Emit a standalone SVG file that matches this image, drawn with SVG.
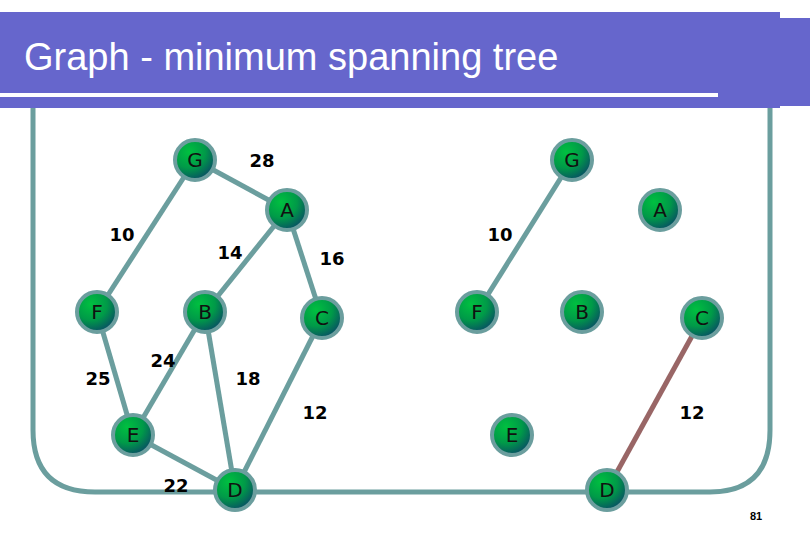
<svg xmlns="http://www.w3.org/2000/svg" width="810" height="540" viewBox="0 0 810 540">
<defs>
<radialGradient id="ng" cx="0.35" cy="0.3" r="0.8">
<stop offset="0" stop-color="#00c040"/><stop offset="0.5" stop-color="#009a48"/><stop offset="1" stop-color="#0a3f6a"/>
</radialGradient>
</defs>
<style>
.n{fill:url(#ng);stroke:#6b9e9e;stroke-width:4}
.nt{font-family:"DejaVu Sans",sans-serif;font-size:20px;fill:#111;text-anchor:middle;dominant-baseline:central}
.e{stroke:#6b9e9e;stroke-width:5;fill:none}
.w{font-family:"DejaVu Sans",sans-serif;font-weight:bold;font-size:18px;fill:#000;text-anchor:middle;dominant-baseline:central}
</style>
<rect width="810" height="540" fill="#fff"/>
<rect x="0" y="12" width="780" height="96" fill="#6666cc"/>
<rect x="780" y="18" width="30" height="88" fill="#6666cc"/>
<rect x="0" y="93" width="718" height="4" fill="#fff"/>
<text x="24" y="70" font-family="Liberation Sans,Arial,sans-serif" font-size="38" fill="#fff">Graph - minimum spanning tree</text>
<path class="e" d="M33 108 V430 Q33 492 95 492 H710 Q770 492 770 430 V108"/>
<g id="connectors">
<line class="e" x1="195" y1="160" x2="97" y2="312"/>
<line class="e" x1="195" y1="160" x2="287" y2="210"/>
<line class="e" x1="287" y1="210" x2="205" y2="312"/>
<line class="e" x1="287" y1="210" x2="322" y2="318"/>
<line class="e" x1="97" y1="312" x2="133" y2="435"/>
<line class="e" x1="205" y1="312" x2="133" y2="435"/>
<line class="e" x1="205" y1="312" x2="235" y2="490"/>
<line class="e" x1="322" y1="318" x2="235" y2="490"/>
<line class="e" x1="133" y1="435" x2="235" y2="490"/>
<line class="e" x1="572" y1="160" x2="477" y2="312"/>
<line class="e" x1="702" y1="318" x2="607" y2="490" style="stroke:#996666"/>
</g>
<g class="w">
<text x="262" y="160">28</text><text x="122" y="234">10</text><text x="230" y="252">14</text><text x="332" y="258">16</text>
<text x="98" y="378">25</text><text x="163" y="360">24</text><text x="248" y="378">18</text><text x="315" y="412">12</text>
<text x="176" y="485">22</text><text x="500" y="234">10</text><text x="692" y="412">12</text>
</g>
<g id="G1"><circle class="n" cx="195" cy="160" r="20"/><text class="nt" x="195" y="160">G</text></g>
<g id="A1"><circle class="n" cx="287" cy="210" r="20"/><text class="nt" x="287" y="210">A</text></g>
<g id="F1"><circle class="n" cx="97" cy="312" r="20"/><text class="nt" x="97" y="312">F</text></g>
<g id="B1"><circle class="n" cx="205" cy="312" r="20"/><text class="nt" x="205" y="312">B</text></g>
<g id="C1"><circle class="n" cx="322" cy="318" r="20"/><text class="nt" x="322" y="318">C</text></g>
<g id="E1"><circle class="n" cx="133" cy="435" r="20"/><text class="nt" x="133" y="435">E</text></g>
<g id="D1"><circle class="n" cx="235" cy="490" r="20"/><text class="nt" x="235" y="490">D</text></g>
<g id="G2"><circle class="n" cx="572" cy="160" r="20"/><text class="nt" x="572" y="160">G</text></g>
<g id="A2"><circle class="n" cx="660" cy="210" r="20"/><text class="nt" x="660" y="210">A</text></g>
<g id="F2"><circle class="n" cx="477" cy="312" r="20"/><text class="nt" x="477" y="312">F</text></g>
<g id="B2"><circle class="n" cx="582" cy="312" r="20"/><text class="nt" x="582" y="312">B</text></g>
<g id="C2"><circle class="n" cx="702" cy="318" r="20"/><text class="nt" x="702" y="318">C</text></g>
<g id="E2"><circle class="n" cx="512" cy="435" r="20"/><text class="nt" x="512" y="435">E</text></g>
<g id="D2"><circle class="n" cx="607" cy="490" r="20"/><text class="nt" x="607" y="490">D</text></g>
<text x="756" y="520" font-family="Liberation Sans,Arial,sans-serif" font-size="11" font-weight="bold" text-anchor="middle">81</text>
</svg>
